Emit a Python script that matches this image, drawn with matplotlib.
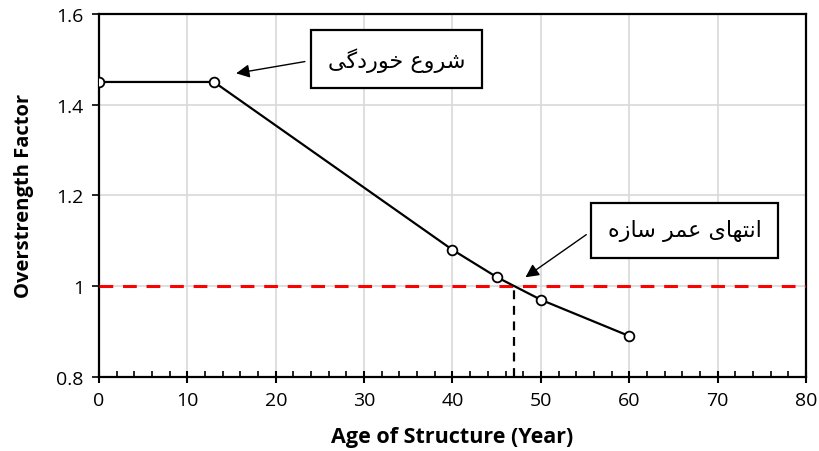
import numpy as np
import matplotlib
matplotlib.use("Agg")
import matplotlib.pyplot as plt
from matplotlib.ticker import MultipleLocator

# data
age = [0, 13, 40, 45, 50, 60]
factor = [1.45, 1.45, 1.08, 1.02, 0.97, 0.89]
limit_factor = 1.0
end_of_life = 47

label_start = "شروع خوردگی"
label_end = "انتهای عمر سازه"

# minimal arabic/persian shaping (matplotlib has no shaping / bidi)
FORMS = {
    "ا": (0xFE8D, 0xFE8E), "د": (0xFEA9, 0xFEAA), "ر": (0xFEAD, 0xFEAE),
    "ز": (0xFEAF, 0xFEB0), "و": (0xFEED, 0xFEEE),
    "ت": (0xFE95, 0xFE96, 0xFE97, 0xFE98), "خ": (0xFEA5, 0xFEA6, 0xFEA7, 0xFEA8),
    "س": (0xFEB1, 0xFEB2, 0xFEB3, 0xFEB4), "ش": (0xFEB5, 0xFEB6, 0xFEB7, 0xFEB8),
    "ع": (0xFEC9, 0xFECA, 0xFECB, 0xFECC), "م": (0xFEE1, 0xFEE2, 0xFEE3, 0xFEE4),
    "ن": (0xFEE5, 0xFEE6, 0xFEE7, 0xFEE8), "ه": (0xFEE9, 0xFEEA, 0xFEEB, 0xFEEC),
    "گ": (0xFB92, 0xFB93, 0xFB94, 0xFB95), "ی": (0xFBFC, 0xFBFD, 0xFBFE, 0xFBFF),
}


def shape(s):
    out = []
    for i, c in enumerate(s):
        if c not in FORMS:
            out.append(c)
            continue
        prev = s[i - 1] if i > 0 else ""
        nxt = s[i + 1] if i < len(s) - 1 else ""
        jp = prev in FORMS and len(FORMS[prev]) == 4
        jn = len(FORMS[c]) == 4 and nxt in FORMS
        f = FORMS[c]
        if jp and jn:
            k = 3
        elif jp:
            k = 1
        elif jn:
            k = 2
        else:
            k = 0
        out.append(chr(f[k]))
    return "".join(out)[::-1]


plt.rcParams["font.family"] = ["Open Sans", "DejaVu Sans"]

fig = plt.figure(figsize=(8.19, 4.52), dpi=100)
ax = fig.add_axes([0.121, 0.164, 0.863, 0.803])

ax.plot(age, factor, color="black", lw=1.6, marker="o", ms=7,
        mfc="white", mec="black", mew=1.3, zorder=4)
ax.axhline(limit_factor, color="#ff0000", lw=2.2, ls=(0, (4.5, 3.2)), zorder=3)
ax.plot([end_of_life, end_of_life], [0.8, limit_factor], color="black",
        lw=1.6, ls=(0, (4, 3)), zorder=3)

ax.set_xlim(0, 80)
ax.set_ylim(0.8, 1.6)
ax.xaxis.set_major_locator(MultipleLocator(10))
ax.xaxis.set_minor_locator(MultipleLocator(2))
ax.set_yticks([0.8, 1.0, 1.2, 1.4, 1.6])
ax.set_yticklabels(["0.8", "1", "1.2", "1.4", "1.6"])

ax.grid(True, which="major", color="#d9d9d9", lw=1.2, zorder=0)
ax.set_axisbelow(True)
for sp in ax.spines.values():
    sp.set_color("black")
    sp.set_linewidth(1.6)

ax.tick_params(axis="x", which="major", direction="inout", length=9, width=1.5,
               labelsize=14, pad=6)
ax.tick_params(axis="x", which="minor", direction="in", length=4, width=1.2)
ax.tick_params(axis="y", which="major", direction="out", length=5, width=1.2,
               labelsize=14, pad=6)

ax.set_xlabel("Age of Structure (Year)", fontsize=15.5, fontweight="bold", labelpad=12)
ax.set_ylabel("Overstrength Factor", fontsize=14.5, fontweight="bold", labelpad=16)

box = dict(boxstyle="square,pad=0.75", fc="white", ec="black", lw=1.6)
ax.text(33.7, 1.50, shape(label_start), fontsize=16, ha="center", va="center",
        family="DejaVu Sans", bbox=box, zorder=6)
ax.text(66.3, 1.123, shape(label_end), fontsize=16, ha="center", va="center",
        family="DejaVu Sans", bbox=box, zorder=6)

arrow = dict(arrowstyle="-|>", color="black", lw=1.0, mutation_scale=20)
ax.annotate("", xy=(15.2, 1.468), xytext=(23.6, 1.496), arrowprops=arrow, zorder=5)
ax.annotate("", xy=(48.0, 1.016), xytext=(55.4, 1.117), arrowprops=arrow, zorder=5)

fig.savefig("out.png", dpi=100)
